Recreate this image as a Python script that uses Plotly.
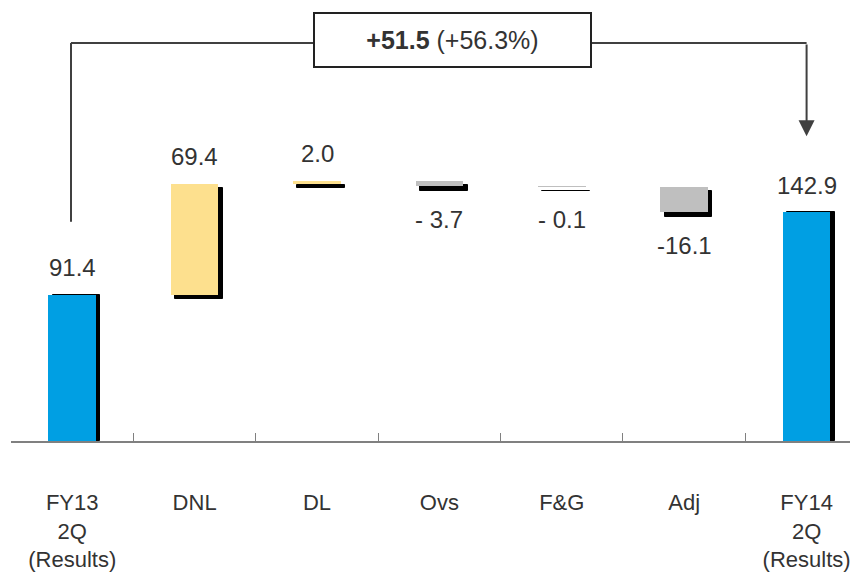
import plotly.graph_objects as go

categories = ["FY13<br>2Q<br>(Results)", "DNL", "DL", "Ovs", "F&G", "Adj", "FY14<br>2Q<br>(Results)"]
start_value = 91.4
deltas = [69.4, 2.0, -3.7, -0.1, -16.1]
end_value = 142.9
value_labels = ["91.4", "69.4", "2.0", "- 3.7", "- 0.1", "-16.1", "142.9"]
kinds = ["total", "up", "up", "down", "down", "down", "total"]

BLUE = "#009FE3"
YELLOW = "#FDE08E"
GRAY = "#BFBFBF"
TXT = "#333333"
FONT = "Liberation Sans, Arial, sans-serif"

# compute floating bars
bases, heights, colors = [], [], []
bases.append(0.0); heights.append(start_value); colors.append(BLUE)
run = start_value
for d in deltas:
    if d >= 0:
        bases.append(run); heights.append(d); colors.append(YELLOW)
    else:
        bases.append(run + d); heights.append(-d); colors.append(GRAY)
    run += d
bases.append(0.0); heights.append(end_value); colors.append(BLUE)

W = 0.39          # bar width (category units)
DX = 0.035        # shadow x offset (category units)
DY = 2.6          # shadow y offset (value units)

fig = go.Figure()
fig.add_trace(go.Bar(
    x=categories, y=heights, base=[b - DY if b > 0 else b for b in bases],
    width=W, offset=-W / 2 + DX,
    marker=dict(color="black", line=dict(color="black", width=1)),
    hoverinfo="skip", showlegend=False,
))
fig.add_trace(go.Bar(
    x=categories, y=heights, base=bases,
    width=W, offset=-W / 2,
    marker=dict(color=colors, line=dict(width=0)),
    showlegend=False,
))

# value labels
for i, (b, h, k, t) in enumerate(zip(bases, heights, kinds, value_labels)):
    if k == "down":
        fig.add_annotation(x=i, y=b, text=t, showarrow=False, yshift=-33,
                           font=dict(size=24, color=TXT, family=FONT))
    else:
        fig.add_annotation(x=i, y=b + h, text=t, showarrow=False, yshift=27,
                           font=dict(size=24, color=TXT, family=FONT))

# bracket
diff = end_value - start_value
pct = diff / start_value * 100
top_y = 248.75
LINE = dict(color="#404040", width=2)
fig.add_shape(type="line", x0=-0.01, x1=-0.01, y0=137, y1=top_y, line=LINE)
fig.add_shape(type="line", x0=-0.01, x1=6.0, y0=top_y, y1=top_y, line=LINE)
fig.add_annotation(x=6.0, y=190.5, ax=6.0, ay=top_y, axref="x", ayref="y",
                   text="", showarrow=True, arrowhead=2, arrowsize=1.6,
                   arrowwidth=2, arrowcolor="#404040")
fig.add_annotation(x=3.107, y=250.6, text=f"<b>{diff:+.1f}</b> ({pct:+.1f}%)",
                   showarrow=False, bgcolor="white", bordercolor="#222222",
                   borderwidth=2, borderpad=2, width=271, height=48,
                   font=dict(size=25, color=TXT, family=FONT))

fig.update_layout(
    width=850, height=564,
    margin=dict(l=3, r=0, t=0, b=131, autoexpand=False),
    paper_bgcolor="white", plot_bgcolor="white",
    barmode="overlay", bargap=0,
    font=dict(family=FONT, color=TXT),
    xaxis=dict(type="category", range=[-0.5, 6.42], showgrid=False,
               automargin=False,
               showline=True, linecolor="#808080", linewidth=1.5,
               ticks="inside", tickson="boundaries", ticklen=8,
               tickcolor="#808080", tickwidth=1,
               tickfont=dict(size=22, color=TXT, family=FONT),
               ticklabelstandoff=41),
    yaxis=dict(range=[0, 270.6], visible=False, showgrid=False, zeroline=False,
               automargin=False),
)

fig.write_html("out.html")
